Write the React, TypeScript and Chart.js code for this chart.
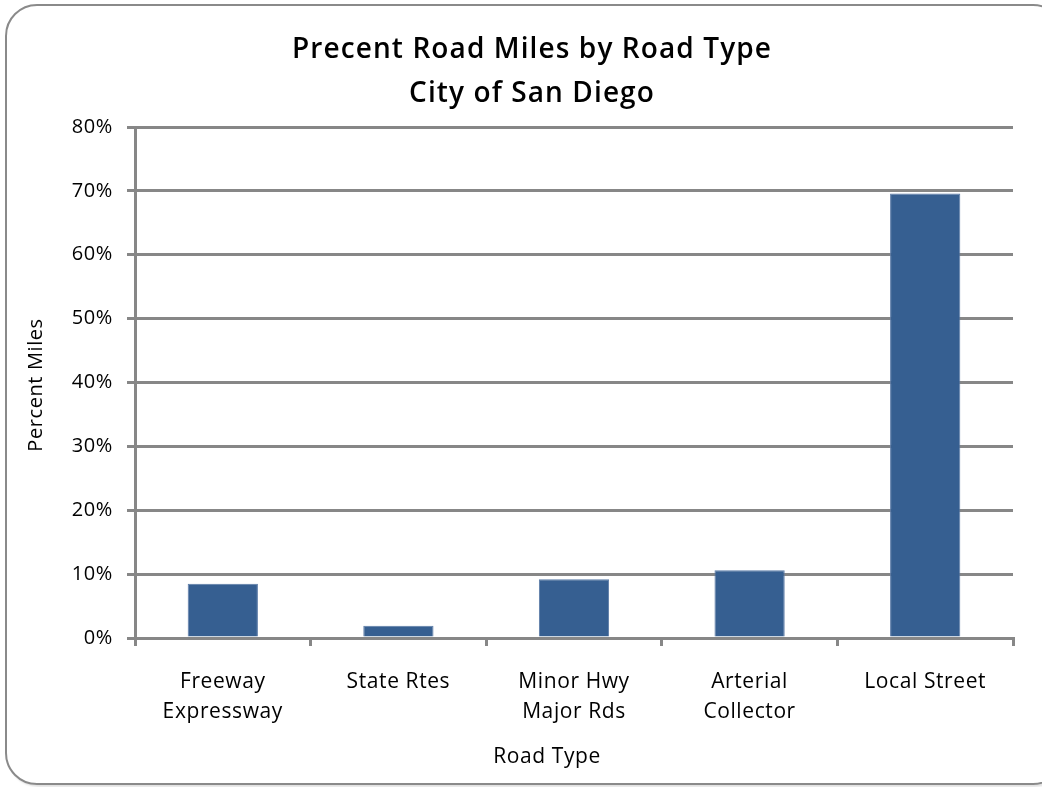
import React, { useEffect, useRef } from "react";
import { Chart, registerables } from "chart.js";

Chart.register(...registerables);

// Road types (two-line labels) and their share of total road miles, in percent
const roadTypes: string[][] = [
  ["Freeway", "Expressway"],
  ["State Rtes"],
  ["Minor Hwy", "Major Rds"],
  ["Arterial", "Collector"],
  ["Local Street"],
];
const percentMiles: number[] = [8.5, 1.9, 9.2, 10.6, 69.6];
const titleLines: string[] = ["Precent Road Miles by Road Type", "City of San Diego"];
const xAxisTitle = "Road Type";
const yAxisTitle = "Percent Miles";

const GRID = "#878787";
const BAR = "#365F91";
const LABEL_FONT = "'Open Sans', 'DejaVu Sans', sans-serif";

// Slightly loose letter spacing for the axis tick labels, plus the chart title
// and both axis titles drawn at fixed spots around the plot area
const textPlugin = {
  id: "chartTexts",
  beforeDraw(chart: any) {
    (chart.ctx as any).letterSpacing = "0.6px";
  },
  afterDraw(chart: any) {
    const ctx: any = chart.ctx;
    ctx.letterSpacing = "0px";
    ctx.save();
    ctx.fillStyle = "#000";
    ctx.textAlign = "center";
    ctx.textBaseline = "middle";
    ctx.letterSpacing = "1.1px";
    ctx.font = `600 28px ${LABEL_FONT}`;
    ctx.fillText(titleLines[0], 532, 50);
    ctx.fillText(titleLines[1], 532, 94);
    ctx.letterSpacing = "0.6px";
    ctx.font = `21px ${LABEL_FONT}`;
    ctx.fillText(xAxisTitle, 547, 757);
    ctx.translate(36, 385);
    ctx.rotate(-Math.PI / 2);
    ctx.font = `20px ${LABEL_FONT}`;
    ctx.fillText(yAxisTitle, 0, 0);
    ctx.restore();
    ctx.letterSpacing = "0px";
  },
};

export default function App() {
  const canvasRef = useRef<HTMLCanvasElement | null>(null);

  useEffect(() => {
    document.body.style.margin = "0";
    const canvas = canvasRef.current;
    if (!canvas) return;
    const chart = new Chart(canvas, {
      type: "bar",
      data: {
        labels: roadTypes,
        datasets: [
          {
            data: percentMiles,
            backgroundColor: BAR,
            borderColor: "#5a7aa6",
            borderWidth: 1,
            barPercentage: 0.4,
            categoryPercentage: 1,
          },
        ],
      },
      options: {
        animation: false,
        responsive: false,
        maintainAspectRatio: false,
        layout: { padding: { left: 55, right: 29, top: 127, bottom: 0 } },
        plugins: {
          legend: { display: false },
          tooltip: { enabled: false },
          title: { display: false },
        },
        scales: {
          x: {
            grid: {
              display: true,
              drawOnChartArea: false,
              drawTicks: true,
              tickLength: 8,
              color: GRID,
              lineWidth: 3,
            },
            border: { display: true, color: GRID, width: 3 },
            ticks: {
              color: "#000",
              font: { family: LABEL_FONT, size: 21, lineHeight: "30px" },
              padding: 21,
              maxRotation: 0,
              autoSkip: false,
            },
            afterFit: (scale: any) => {
              scale.height = 149;
            },
          },
          y: {
            min: 0,
            max: 80,
            grid: {
              color: GRID,
              lineWidth: 3,
              drawTicks: true,
              tickLength: 8,
            },
            border: { display: true, color: GRID, width: 3 },
            ticks: {
              stepSize: 10,
              color: "#000",
              font: { family: LABEL_FONT, size: 20 },
              padding: 14,
              callback: (v: any) => `${v}%`,
            },
            afterFit: (scale: any) => {
              scale.width = 80;
            },
          },
        },
      },
      plugins: [textPlugin],
    });
    return () => chart.destroy();
  }, []);

  return (
    <div style={{ position: "fixed", left: 0, top: 0, width: 1042, height: 787, background: "#fff", overflow: "hidden" }}>
      <div
        style={{
          position: "absolute",
          left: 5,
          top: 4,
          width: 1060,
          height: 781,
          border: "2.5px solid #8a8a8a",
          borderRadius: 32,
          boxSizing: "border-box",
          boxShadow: "2px 2px 2px rgba(0,0,0,0.12)",
        }}
      />
      <canvas ref={canvasRef} width={1042} height={787} style={{ position: "absolute", left: 0, top: 0 }} />
    </div>
  );
}
